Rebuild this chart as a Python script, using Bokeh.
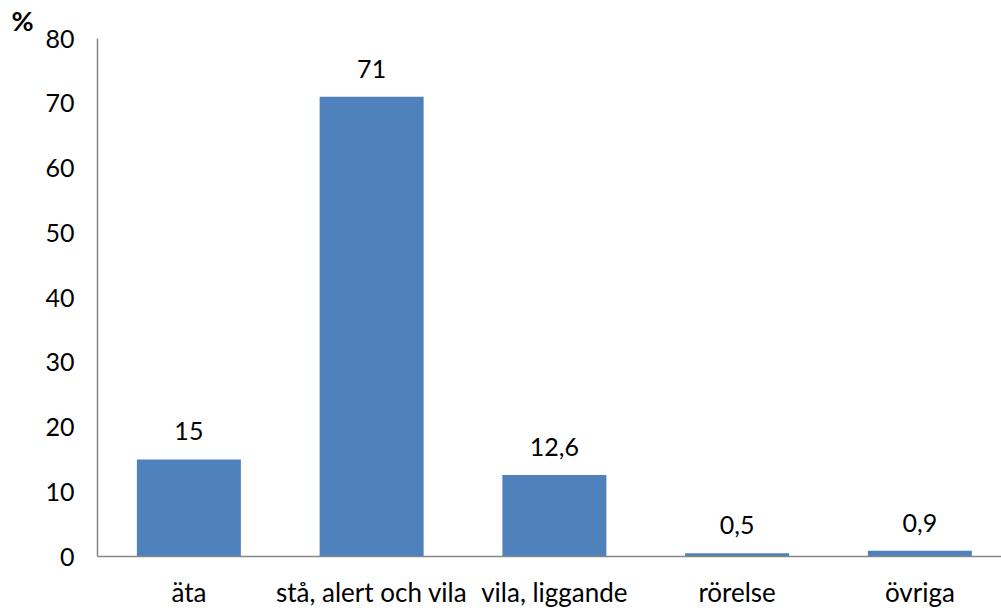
from bokeh.plotting import figure
from bokeh.models import ColumnDataSource, Range1d, FixedTicker
from bokeh.embed import file_html
from bokeh.resources import INLINE
from bokeh.core.properties import value

categories = ["äta", "stå, alert och vila", "vila, liggande", "rörelse", "övriga"]
values = [15, 71, 12.6, 0.5, 0.9]
y_ticks = [0, 10, 20, 30, 40, 50, 60, 70, 80]

FONT = "Lato"
labels = [f"{v:g}".replace(".", ",") for v in values]
xs = [i + 0.5 for i in range(len(categories))]

src = ColumnDataSource(dict(x=xs, top=values, lab=labels))

W, H = 1001, 610
left, top, bottom, right = 97, 38, 54, 0
frame_w = W - left - right
cat_px = 182.75

p = figure(width=W, height=H, output_backend="svg", toolbar_location=None,
           x_range=Range1d(0, frame_w / cat_px), y_range=Range1d(0, 80),
           min_border_left=left, min_border_top=top, min_border_bottom=bottom,
           min_border_right=right)
p.outline_line_color = None
p.xgrid.visible = False
p.ygrid.visible = False

p.title.text = "%"
p.title.align = "left"
p.title.offset = -86
p.title.standoff = 3
p.title.text_font = FONT
p.title.text_font_size = "27px"
p.title.text_font_style = "bold"
p.title.text_color = "#000000"

p.vbar(x="x", top="top", width=104 / cat_px, bottom=0, source=src,
       fill_color="#4F81BD", line_color=None)

p.text(x="x", y="top", text="lab", source=src, y_offset=-28,
       text_align="center", text_baseline="alphabetic",
       text_font=value(FONT), text_font_size="25px", text_color="#000000")

for ax in (p.xaxis[0], p.yaxis[0]):
    ax.axis_line_color = "#868686"
    ax.axis_line_width = 1.5
    ax.major_tick_line_color = None
    ax.minor_tick_line_color = None
    ax.major_tick_out = 0
    ax.major_tick_in = 0
    ax.major_label_text_font = FONT
    ax.major_label_text_color = "#000000"

p.yaxis[0].major_label_text_font_size = "25px"
p.xaxis[0].major_label_text_font_size = "26px"
p.yaxis[0].ticker = FixedTicker(ticks=y_ticks)
p.yaxis[0].major_label_standoff = 23
p.xaxis[0].ticker = FixedTicker(ticks=xs)
p.xaxis[0].major_label_overrides = {x: c for x, c in zip(xs, categories)}
p.xaxis[0].major_label_standoff = 19

open("out.html", "w").write(file_html(p, INLINE))
